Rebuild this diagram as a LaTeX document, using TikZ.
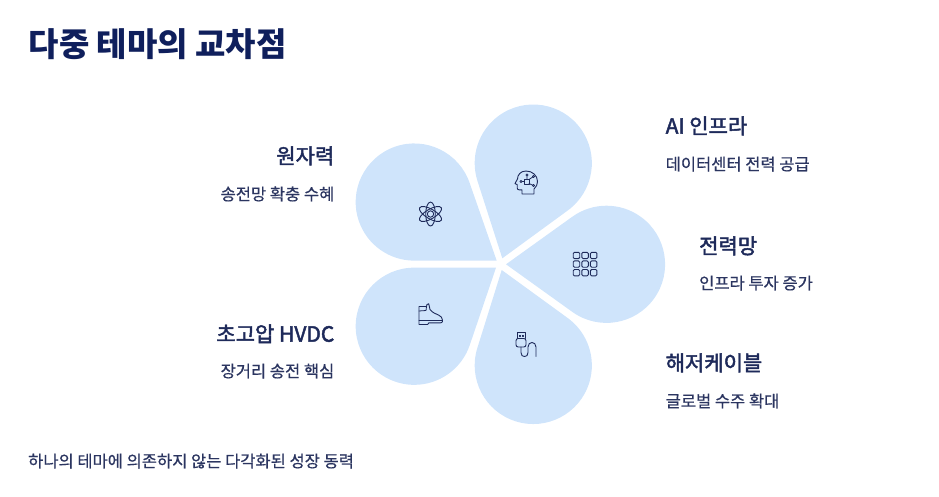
\documentclass[tikz,border=0pt]{standalone}
\usepackage{fontspec}
\usetikzlibrary{calc}
\setmainfont{Noto Sans CJK KR}
\newfontfamily\headfont[FakeBold=2.2]{Noto Sans CJK KR}
\newfontfamily\subfont[FakeBold=0.6]{Noto Sans CJK KR}
\definecolor{titlecol}{HTML}{0F1F5C}
\definecolor{headcol}{HTML}{1E2A5A}
\definecolor{subcol}{HTML}{2B3560}
\definecolor{petalcol}{HTML}{CFE4FB}
\definecolor{iconcol}{HTML}{1E2A5A}
\tikzset{
  titletext/.style={anchor=base west,inner sep=0pt,text=titlecol,font=\fontsize{33}{33}\selectfont\bfseries},
  headL/.style={anchor=base west,inner sep=0pt,text=headcol,font=\fontsize{21}{21}\selectfont\headfont},
  headR/.style={anchor=base east,inner sep=0pt,text=headcol,font=\fontsize{21}{21}\selectfont\headfont},
  subL/.style={anchor=base west,inner sep=0pt,text=subcol,font=\fontsize{16.5}{16.5}\selectfont\subfont},
  subR/.style={anchor=base east,inner sep=0pt,text=subcol,font=\fontsize{16.5}{16.5}\selectfont\subfont},
  icon/.style={draw=iconcol,line width=0.9pt,line join=round,line cap=round,fill=none},
}
\begin{document}
\begin{tikzpicture}[x=1pt,y=1pt]
\useasboundingbox (0,0) rectangle (939,-496);
% petals: tip x, tip y, circle centre x, circle centre y
\foreach \tx/\ty/\cx/\cy in {506/264.3/606.5/264.3, 502.3/258.3/533.3/163, 496.7/260.7/414.2/202, 496/267.7/414.2/326.3, 501.7/270/533.3/365.5}{
  \pgfmathsetmacro{\ang}{atan2(-(\cy-\ty),\cx-\tx)}
  \pgfmathsetmacro{\dist}{veclen(\cx-\tx,\cy-\ty)}
  \pgfmathsetmacro{\half}{180-acos(58.6/\dist)}
  \begin{scope}[shift={(\tx,-\ty)},rotate=\ang]
    \fill[petalcol] (0,0) -- ($(\dist,0)+(-\half:58.6)$) arc[start angle=-\half,end angle=\half,radius=58.6pt] -- cycle;
  \end{scope}
}
% head icon
\begin{scope}[shift={(526,-182.5)},yscale=-1]
  \draw[icon] (8,11.5) -- (8,6.5) .. controls (10.5,4.5) and (11.5,1.5) .. (11.5,-1) .. controls (11.5,-7) and (6.5,-11.5) .. (0,-11.5) .. controls (-5.5,-11.5) and (-8.5,-7.5) .. (-8.5,-3.5) -- (-11,1) -- (-8.8,2.2) -- (-8.8,5.5) .. controls (-8.8,6.8) and (-8,7.3) .. (-6.8,7.3) -- (-4,7.3) -- (-4,11.5) -- cycle;
  \draw[icon,line width=0.8pt] (-1.5,-3.5) rectangle (3,1.5);
  \draw[icon,line width=0.8pt] (-5,-1) circle (1.1) (-3.9,-1) -- (-1.5,-1);
  \draw[icon,line width=0.8pt] (1,-7.5) circle (1.1) (1,-6.4) -- (1,-3.5);
  \draw[icon,line width=0.8pt] (7.5,-6) circle (1.1) (6.6,-5.4) -- (3,-3);
  \draw[icon,line width=0.8pt] (7.5,3) circle (1.1) (6.5,2.6) -- (3,1);
\end{scope}
% atom icon
\begin{scope}[shift={(430.5,-214)}]
  \draw[icon] (0,0) circle (3.2);
  \draw[icon] (0,0) ellipse[x radius=4.8,y radius=12];
  \draw[icon,rotate=60] (0,0) ellipse[x radius=4.8,y radius=12.5];
  \draw[icon,rotate=-60] (0,0) ellipse[x radius=4.8,y radius=12.5];
\end{scope}
% grid icon
\foreach \i in {0,1,2}{\foreach \j in {0,1,2}{
  \draw[icon,rounded corners=1.2pt] ({573.2+8.6*\i},{-252.3-8.6*\j}) rectangle ++(6.5,-6.3);
}}
% boot icon
\begin{scope}[shift={(430.5,-314)},yscale=-1]
  \draw[icon] (-11.5,-7.5) -- (-4,-7.5) -- (-3.5,-9.5) -- (-1.8,-10.3) -- (-0.5,-4.5) .. controls (2,-1.5) and (5,0) .. (8,1) .. controls (10.5,2) and (12,4) .. (12,6.3) -- (12,7.3) .. controls (12,8.3) and (11,8.8) .. (10,8.8) -- (-1.5,8.8) -- (-3,10.5) -- (-11.5,10.5) -- cycle;
  \draw[icon,line width=0.8pt] (-11.5,6) -- (12,6);
  \draw[icon,line width=0.8pt] (-11.5,-3) -- (-4.5,-3.5) -- (-4,-7.5);
\end{scope}
% usb icon
\begin{scope}[shift={(526,-344.5)},yscale=-1]
  \draw[icon] (-9,-6) -- (-9,-12) -- (-1,-12) -- (-1,-6);
  \draw[icon,rounded corners=2.2pt] (-10,-6) rectangle (0,2.5);
  \draw[icon,line width=0.7pt] (-7,-9.6) rectangle (-6,-8.4) (-4,-9.6) rectangle (-3,-8.4);
  \draw[icon] (-5,2.5) -- (-5,8) .. controls (-5,11) and (-3.5,12) .. (-1.5,12) .. controls (0.5,12) and (2,11) .. (2,8) -- (2,2.5) .. controls (2,-0.5) and (4,-2) .. (6,-2) .. controls (8,-2) and (10,-0.5) .. (10,2.5) -- (10,12);
\end{scope}
% texts
\node[titletext] (title) at (28.5,-56) {다중 테마의 교차점};
\node[headR] (n1) at (334.5,-163.7) {원자력};
\node[subR] (n1s) at (334.5,-200.2) {송전망 확충 수혜};
\node[headL] (n2) at (665.5,-133.7) {AI 인프라};
\node[subL] (n2s) at (665.5,-170.2) {데이터센터 전력 공급};
\node[headL] (n3) at (699,-253.7) {전력망};
\node[subL] (n3s) at (699,-289.2) {인프라 투자 증가};
\node[headL] (n4) at (665.5,-370.7) {해저케이블};
\node[subL] (n4s) at (665.5,-407.2) {글로벌 수주 확대};
\node[headR] (n5) at (334.5,-341.7) {초고압 HVDC};
\node[subR] (n5s) at (334.5,-377.2) {장거리 송전 핵심};
\node[subL] (foot) at (28,-467.2) {하나의 테마에 의존하지 않는 다각화된 성장 동력};
\end{tikzpicture}
\end{document}
